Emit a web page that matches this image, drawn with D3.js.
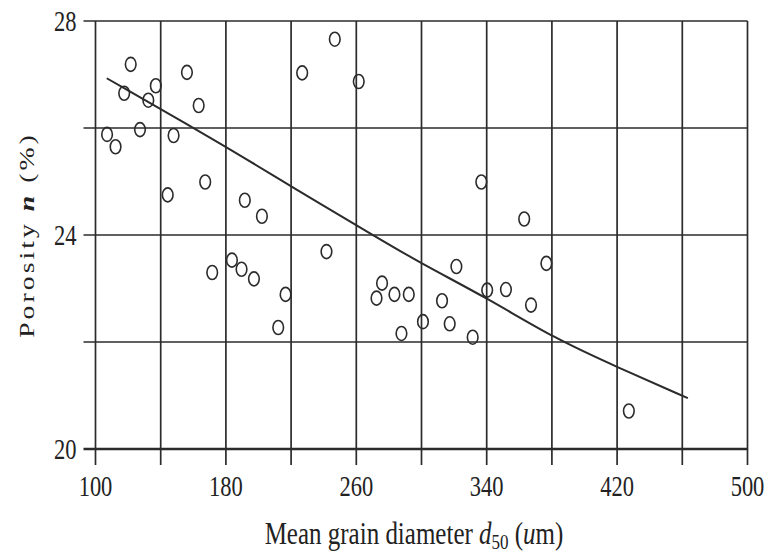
<!DOCTYPE html>
<html>
<head>
<meta charset="utf-8">
<script src="https://cdn.jsdelivr.net/npm/d3@7"></script>
<style>
  body { margin: 0; background: #fff; }
  svg text { font-family: "Liberation Serif", "DejaVu Serif", serif; fill: #222; }
</style>
</head>
<body>
<div class="chart"></div>
<script>
// grain diameter (um) vs porosity (%)
var diameters = [107.1, 112.3, 121.6, 117.6, 127.3, 132.4, 137.0, 144.3, 147.9, 156.1,
                 163.3, 167.3, 171.6, 183.7, 189.6, 191.6, 197.2, 202.1, 212.1, 216.6,
                 226.8, 241.7, 246.8, 261.5, 272.4, 275.8, 283.4, 287.7, 292.2, 300.9,
                 312.6, 317.3, 321.4, 331.4, 336.7, 340.3, 351.8, 363.0, 367.2, 376.6,
                 427.2];
var porosity  = [25.88, 25.65, 27.19, 26.65, 25.97, 26.52, 26.79, 24.75, 25.86, 27.04,
                 26.42, 24.99, 23.30, 23.53, 23.36, 24.65, 23.18, 24.35, 22.27, 22.89,
                 27.03, 23.69, 27.66, 26.87, 22.82, 23.10, 22.89, 22.16, 22.89, 22.38,
                 22.77, 22.34, 23.41, 22.09, 24.99, 22.97, 22.98, 24.30, 22.69, 23.47,
                 20.71];

// fitted curve
var fitX = [106.9, 180.4, 219.2, 272.4, 300.2, 340.4, 382.0, 420.1, 463.4];
var fitY = [26.93, 25.65, 24.92, 23.96, 23.46, 22.82, 22.06, 21.53, 20.95];

var xGrid = [100, 140, 180, 220, 260, 300, 340, 380, 420, 460, 500];
var xLabels = [100, 180, 260, 340, 420, 500];
var yGrid = [20, 22, 24, 26, 28];
var yLabels = [20, 24, 28];

var w = 768, h = 552;
var stretch = 1.32; // the figure is taller than it is wide

var x = d3.scaleLinear().domain([100, 500]).range([95.5, 747.5]);
var y = d3.scaleLinear().domain([20, 28]).range([449, 21]);

var svg = d3.select("div.chart").append("svg")
    .attr("width", w)
    .attr("height", h);

var ink = "#2b2b2b";

//horizontal grid, with a short tick left of the axis
svg.append("g").selectAll("line")
    .data(yGrid)
    .join("line")
    .attr("x1", x(100) - 12)
    .attr("x2", x(500))
    .attr("y1", d => y(d))
    .attr("y2", d => y(d))
    .attr("stroke", ink)
    .attr("stroke-width", d => d === 20 ? 2.6 : 1.7);

//vertical grid, with a tick below the axis
svg.append("g").selectAll("line")
    .data(xGrid)
    .join("line")
    .attr("x1", d => x(d))
    .attr("x2", d => x(d))
    .attr("y1", y(28))
    .attr("y2", y(20) + 16)
    .attr("stroke", ink)
    .attr("stroke-width", 1.7);

//tick labels
svg.append("g").selectAll("text")
    .data(yLabels)
    .join("text")
    .attr("transform", d => `translate(${x(100) - 19},${y(d)}) scale(1,${stretch})`)
    .attr("text-anchor", "end")
    .attr("dominant-baseline", "central")
    .style("font-size", "22.5px")
    .text(d => d);

svg.append("g").selectAll("text")
    .data(xLabels)
    .join("text")
    .attr("transform", d => `translate(${x(d)},${496}) scale(1,${stretch})`)
    .attr("text-anchor", "middle")
    .style("font-size", "22.5px")
    .text(d => d);

//axis titles
var xt = svg.append("text")
    .attr("transform", `translate(${414},${544}) scale(1,${stretch * 0.95})`)
    .attr("text-anchor", "middle")
    .style("font-size", "25px");
xt.append("tspan").text("Mean grain diameter ");
xt.append("tspan").style("font-style", "italic").text("d");
xt.append("tspan").attr("dy", 4).style("font-size", "17px").text("50");
xt.append("tspan").attr("dy", -4).text(" (");
xt.append("tspan").style("font-style", "italic").text("u");
xt.append("tspan").text("m)");

var yt = svg.append("text")
    .attr("transform", `translate(${34},${235}) scale(1,${stretch}) rotate(-90)`)
    .attr("text-anchor", "middle")
    .style("font-size", "21px")
    .style("letter-spacing", "2.3px");
yt.append("tspan").text("Porosity ");
yt.append("tspan").style("font-style", "italic").style("font-weight", "bold").text("n");
yt.append("tspan").text(" (%)");

//fitted curve
var pts = fitX.map((d, i) => [d, fitY[i]]);
svg.append("path")
    .datum(pts)
    .attr("fill", "none")
    .attr("stroke", ink)
    .attr("stroke-width", 2)
    .attr("d", d3.line().x(d => x(d[0])).y(d => y(d[1])).curve(d3.curveBasis));

//data points as open circles
svg.append("g").selectAll("ellipse")
    .data(diameters)
    .join("ellipse")
    .attr("cx", d => x(d))
    .attr("cy", (d, i) => y(porosity[i]))
    .attr("rx", 5.3)
    .attr("ry", 7)
    .attr("fill", "none")
    .attr("stroke", ink)
    .attr("stroke-width", 1.6);
</script>
</body>
</html>
